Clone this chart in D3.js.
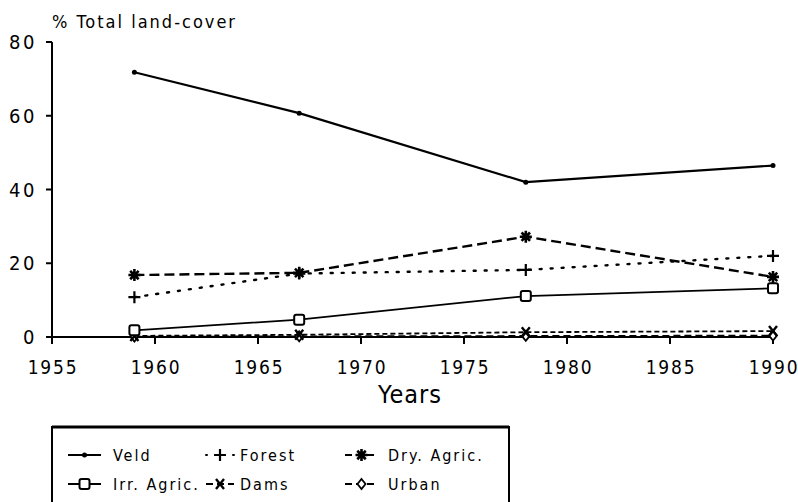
<!DOCTYPE html>
<html>
<head>
<meta charset="utf-8">
<script src="https://cdn.jsdelivr.net/npm/d3@7"></script>
<style>
  body { margin: 0; background: #fff; }
  text { font-family: "DejaVu Sans Condensed", "Liberation Sans Narrow", sans-serif; fill: #000; }
</style>
</head>
<body>
<div id="chart"></div>
<script>
// data
var years = [1959, 1967, 1978, 1990];
var veld = [71.8, 60.7, 42, 46.5];
var forest = [10.8, 17.2, 18.2, 22];
var dryAgric = [16.8, 17.4, 27.2, 16.3];
var irrAgric = [1.8, 4.7, 11.1, 13.2];
var dams = [0.3, 0.6, 1.3, 1.6];
var urban = [0.1, 0.2, 0.3, 0.4];
var xTicks = [1955, 1960, 1965, 1970, 1975, 1980, 1985, 1990];
var yTicks = [0, 20, 40, 60, 80];

var width = 798, height = 502;
var svg = d3.select("#chart").append("svg")
    .attr("width", width)
    .attr("height", height);

var x = d3.scaleLinear().domain([1955, 1990]).range([52, 773]);
var y = d3.scaleLinear().domain([0, 80]).range([337, 42]);

//------------------------------markers--------------------------
function drawMarker(g, type, cx, cy) {
    if (type == "dot") {
        g.append("circle").attr("cx", cx).attr("cy", cy).attr("r", 2.5).attr("fill", "#000");
    } else if (type == "plus") {
        g.append("path").attr("d", "M" + (cx - 6) + "," + cy + "H" + (cx + 6) + "M" + cx + "," + (cy - 6) + "V" + (cy + 6))
            .attr("stroke", "#000").attr("stroke-width", 2.2);
    } else if (type == "star") {
        var d = "";
        for (var i = 0; i < 4; i++) {
            var a = i * Math.PI / 4;
            d += "M" + (cx - Math.cos(a) * 6) + "," + (cy - Math.sin(a) * 6) + "L" + (cx + Math.cos(a) * 6) + "," + (cy + Math.sin(a) * 6);
        }
        g.append("path").attr("d", d).attr("stroke", "#000").attr("stroke-width", 2.6);
    } else if (type == "square") {
        g.append("rect").attr("x", cx - 5).attr("y", cy - 5).attr("width", 10).attr("height", 10)
            .attr("rx", 2).attr("fill", "#fff").attr("stroke", "#000").attr("stroke-width", 2);
    } else if (type == "cross") {
        g.append("path").attr("d", "M" + (cx - 4) + "," + (cy - 5) + "L" + (cx + 4) + "," + (cy + 5) + "M" + (cx + 4) + "," + (cy - 5) + "L" + (cx - 4) + "," + (cy + 5))
            .attr("stroke", "#000").attr("stroke-width", 2.4);
    } else if (type == "diamond") {
        g.append("path").attr("d", "M" + cx + "," + (cy - 5) + "L" + (cx + 4) + "," + cy + "L" + cx + "," + (cy + 5) + "L" + (cx - 4) + "," + cy + "Z")
            .attr("fill", "#fff").attr("stroke", "#000").attr("stroke-width", 1.8);
    }
}

var series = [
    { name: "Veld", values: veld, dash: null, width: 2.2, marker: "dot" },
    { name: "Forest", values: forest, dash: "2,9", width: 2.4, marker: "plus" },
    { name: "Dry. Agric.", values: dryAgric, dash: "10,5", width: 2.4, marker: "star" },
    { name: "Irr. Agric.", values: irrAgric, dash: null, width: 1.8, marker: "square" },
    { name: "Dams", values: dams, dash: "5,3", width: 1.8, marker: "cross" },
    { name: "Urban", values: urban, dash: "7,4", width: 1.6, marker: "diamond" }
];

// axes
var axisG = svg.append("g");
axisG.append("line").attr("x1", x(1955)).attr("x2", x(1955)).attr("y1", y(80)).attr("y2", y(0) + 7)
    .attr("stroke", "#000").attr("stroke-width", 2);
axisG.append("line").attr("x1", x(1955)).attr("x2", x(1990)).attr("y1", y(0)).attr("y2", y(0))
    .attr("stroke", "#000").attr("stroke-width", 2);
axisG.selectAll(".yt").data(yTicks).enter().append("line")
    .attr("x1", x(1955) - 6).attr("x2", x(1955))
    .attr("y1", function(d) { return y(d); })
    .attr("y2", function(d) { return y(d); })
    .attr("stroke", "#000").attr("stroke-width", 2);
axisG.selectAll(".xt").data(xTicks).enter().append("line")
    .attr("x1", function(d) { return x(d); })
    .attr("x2", function(d) { return x(d); })
    .attr("y1", y(0)).attr("y2", y(0) + 7)
    .attr("stroke", "#000").attr("stroke-width", 2);
axisG.selectAll(".yl").data(yTicks).enter().append("text")
    .attr("x", 37).attr("y", function(d) { return y(d) + 7; })
    .attr("font-size", "20px").attr("letter-spacing", "2.5px")
    .style("text-anchor", "end")
    .text(function(d) { return d; });
axisG.selectAll(".xl").data(xTicks).enter().append("text")
    .attr("x", function(d) { return x(d) + 1; })
    .attr("y", y(0) + 37)
    .attr("font-size", "19px").attr("letter-spacing", "1.8px")
    .style("text-anchor", "middle")
    .text(function(d) { return d; });

svg.append("text").attr("x", 52).attr("y", 28)
    .attr("font-size", "18px").attr("letter-spacing", "2px")
    .text("% Total land-cover");
svg.append("text").attr("x", 410).attr("y", 403)
    .attr("font-size", "25px").attr("letter-spacing", "1px")
    .style("text-anchor", "middle")
    .text("Years");

// lines
var line = d3.line().x(function(d) { return x(d[0]); }).y(function(d) { return y(d[1]); });
var plot = svg.append("g");
series.slice().reverse().forEach(function(s) {
    var pts = years.map(function(yr, i) { return [yr, s.values[i]]; });
    plot.append("path").attr("d", line(pts))
        .attr("fill", "none").attr("stroke", "#000")
        .attr("stroke-width", s.width)
        .attr("stroke-linecap", s.dash == "2,9" ? "round" : "butt")
        .attr("stroke-dasharray", s.dash);
    pts.forEach(function(p) { drawMarker(plot, s.marker, x(p[0]), y(p[1])); });
});

// legend
var lg = svg.append("g");
lg.append("rect").attr("x", 52).attr("y", 427).attr("width", 457).attr("height", 90)
    .attr("fill", "none").attr("stroke", "#000").attr("stroke-width", 2);
lg.append("line").attr("x1", 52).attr("x2", 509).attr("y1", 427).attr("y2", 427)
    .attr("stroke", "#000").attr("stroke-width", 3);
var colX = [68, 206, 345];
var colText = [113, 240, 388];
var rowY = [455, 484];
series.forEach(function(s, i) {
    var c = i % 3;
    var lx = colX[c], ly = rowY[Math.floor(i / 3)];
    var len = c == 1 ? 28 : 33;
    lg.append("line").attr("x1", lx).attr("x2", lx + len).attr("y1", ly).attr("y2", ly)
        .attr("stroke", "#000").attr("stroke-width", 2)
        .attr("stroke-linecap", s.dash == "2,9" ? "round" : "butt")
        .attr("stroke-dasharray", s.dash == null ? null : (s.dash == "2,9" ? "1,8" : "7,4"));
    drawMarker(lg, s.marker, lx + len / 2, ly);
    lg.append("text").attr("x", colText[c]).attr("y", ly + 6)
        .attr("font-size", "16px").attr("letter-spacing", "2px")
        .text(s.name);
});
</script>
</body>
</html>
